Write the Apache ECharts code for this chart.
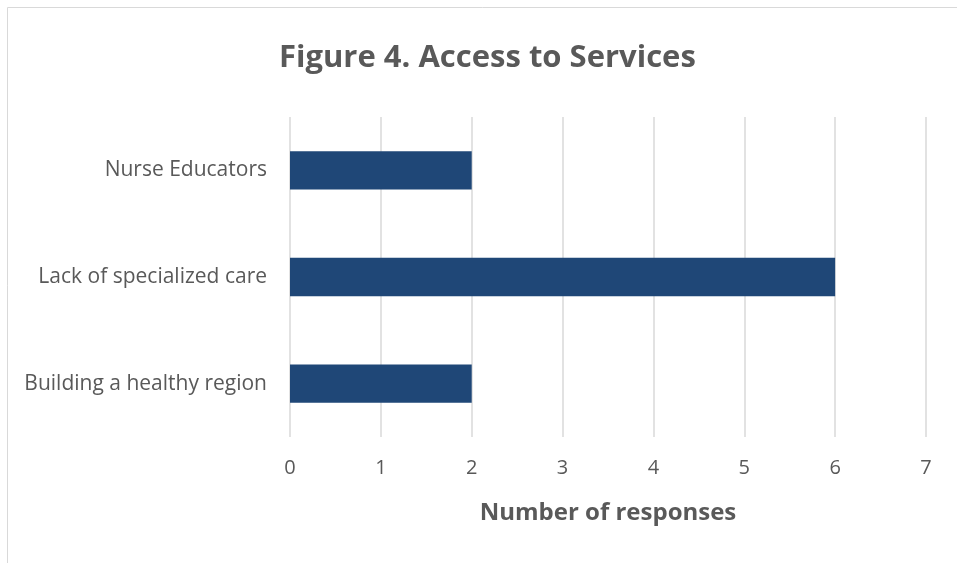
<!DOCTYPE html>
<html><head><meta charset="utf-8">
<script src="https://cdn.jsdelivr.net/npm/echarts@6/dist/echarts.min.js"></script>
<style>html,body{margin:0;padding:0;background:#fff}#c{width:957px;height:563px}</style>
</head><body><div id="c"></div>
<script>
const categories = ["Building a healthy region", "Lack of specialized care", "Nurse Educators"];
const values = [2, 6, 2];
const xTicks = [0, 1, 2, 3, 4, 5, 6, 7];
const titleText = "Figure 4. Access to Services";
const xName = "Number of responses";

const chart = echarts.init(document.getElementById('c'));
const FONT = 'Open Sans';
chart.setOption({
  animation: false,
  graphic: [{type:'rect', shape:{x:7.5, y:7.5, width:1200, height:1000}, style:{fill:'none', stroke:'#D9D9D9', lineWidth:1}, silent:true}],
  title: {text: titleText, left: 279, top: 43, padding: 0, textStyle:{fontFamily:FONT, fontWeight:'bold', fontSize:31, color:'#595959'}},
  grid: {left: 290, right: 31, top: 117, bottom: 126},
  xAxis: {type:'value', min: xTicks[0], max: xTicks[xTicks.length-1], interval: 1,
    name: xName, nameLocation:'middle', nameGap: 64,
    nameTextStyle:{fontFamily:FONT, fontWeight:'bold', fontSize:24, color:'#595959'},
    axisLine:{show:false}, axisTick:{show:false},
    axisLabel:{fontFamily:FONT, fontSize:20, color:'#595959', margin:21},
    splitLine:{show:true, lineStyle:{color:'#D9D9D9', width:1.5}}},
  yAxis: {type:'category', data: categories,
    axisLine:{show:false}, axisTick:{show:false},
    axisLabel:{fontFamily:FONT, fontSize:21, color:'#595959', margin:23}},
  series: [{type:'bar', data: values, barCategoryGap:'64%', itemStyle:{color:'#1F4777'}}]
});
</script></body></html>
